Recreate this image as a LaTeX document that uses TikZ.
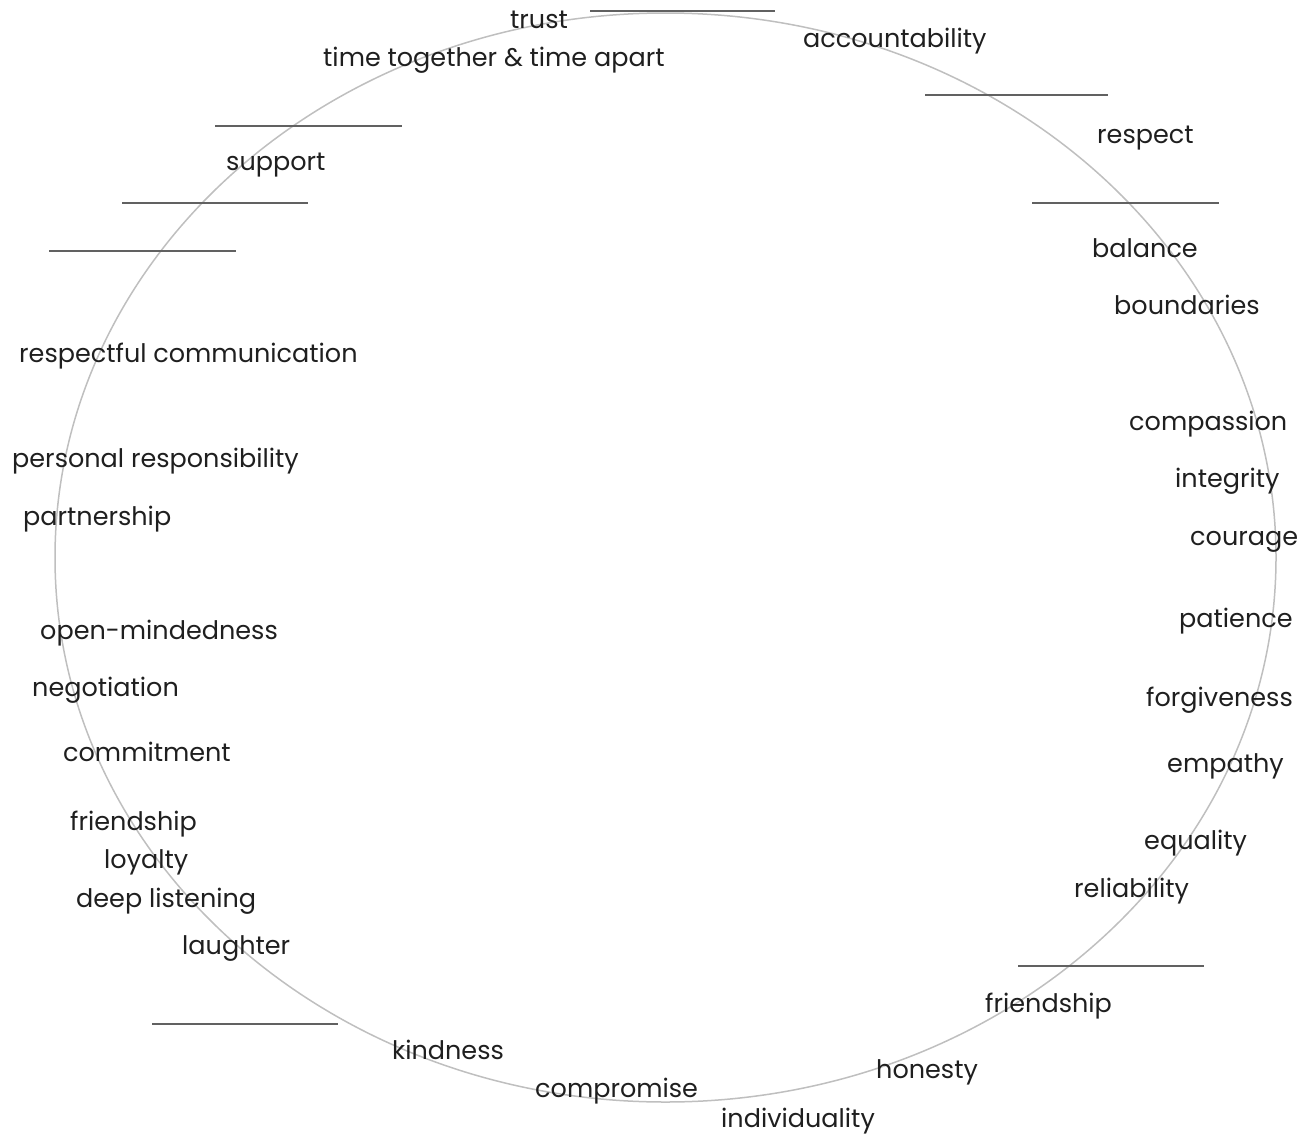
\documentclass[tikz,border=0pt]{standalone}
\usepackage{fontspec}
\setmainfont{Poppins}
\begin{document}
\begin{tikzpicture}[x=1pt,y=-1pt,
  word/.style={anchor=base west,inner sep=0pt,font=\fontsize{25.5}{30}\selectfont,text=black!88},
  blank/.style={draw=black!62,line width=2pt},
  ring/.style={draw=black!25,line width=1.5pt}]
\useasboundingbox (0,0) rectangle (1309,1135);
\draw[ring] (665.5,557.5) ellipse [x radius=610.5, y radius=544.5];
% blank lines
\draw[blank] (590,11) -- (775,11);
\draw[blank] (925,95) -- (1108,95);
\draw[blank] (215,126) -- (402,126);
\draw[blank] (1032,203) -- (1219,203);
\draw[blank] (122,203) -- (308,203);
\draw[blank] (49,251) -- (236,251);
\draw[blank] (1018,966) -- (1204,966);
\draw[blank] (152,1024) -- (338,1024);
% words
\node[word] (w1) at (510,28) {trust};
\node[word] (w2) at (323,66) {time together \& time apart};
\node[word] (w3) at (803,47) {accountability};
\node[word] (w4) at (1097,143) {respect};
\node[word] (w5) at (226,170) {support};
\node[word] (w6) at (1092,257) {balance};
\node[word] (w7) at (1114,314) {boundaries};
\node[word] (w8) at (19,362) {respectful communication};
\node[word] (w9) at (1129,430) {compassion};
\node[word] (w10) at (12,467) {personal responsibility};
\node[word] (w11) at (1175,487) {integrity};
\node[word] (w12) at (23,525) {partnership};
\node[word] (w13) at (1190,545) {courage};
\node[word] (w14) at (1179,627) {patience};
\node[word] (w15) at (40,639) {open-mindedness};
\node[word] (w16) at (32,696) {negotiation};
\node[word] (w17) at (1146,706) {forgiveness};
\node[word] (w18) at (63,761) {commitment};
\node[word] (w19) at (1167,772) {empathy};
\node[word] (w20) at (70,830) {friendship};
\node[word] (w21) at (1144,849) {equality};
\node[word] (w22) at (104,868) {loyalty};
\node[word] (w23) at (1074,897) {reliability};
\node[word] (w24) at (76,907) {deep listening};
\node[word] (w25) at (182,954) {laughter};
\node[word] (w26) at (985,1012) {friendship};
\node[word] (w27) at (392,1059) {kindness};
\node[word] (w28) at (876,1078) {honesty};
\node[word] (w29) at (535,1097) {compromise};
\node[word] (w30) at (721,1127) {individuality};
\end{tikzpicture}
\end{document}
